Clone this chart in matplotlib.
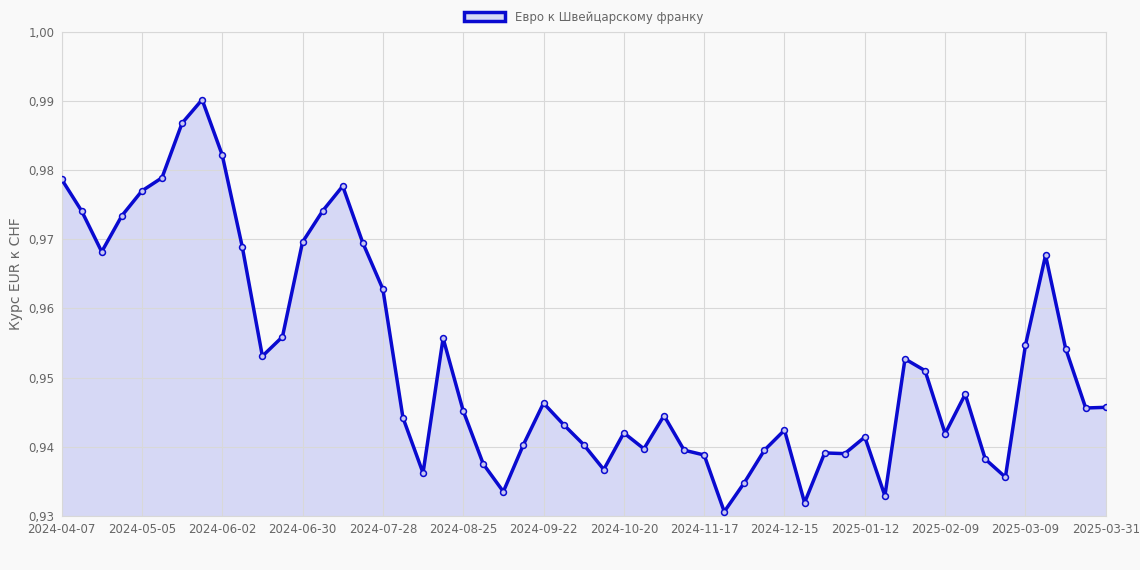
import matplotlib.pyplot as plt
import matplotlib.patches as mpatches
import pandas as pd

# weekly EUR/CHF rate
values = [0.9787, 0.9741, 0.9682, 0.9734, 0.9770, 0.9789, 0.9868, 0.9902, 0.9822, 0.9689,
          0.9531, 0.9559, 0.9696, 0.9741, 0.9777, 0.9695, 0.9628, 0.9442, 0.9362, 0.9557,
          0.9452, 0.9375, 0.9335, 0.9403, 0.9463, 0.9432, 0.9403, 0.9367, 0.9420, 0.9397,
          0.9445, 0.9395, 0.9388, 0.9306, 0.9348, 0.9395, 0.9424, 0.9319, 0.9391, 0.9390,
          0.9414, 0.9329, 0.9527, 0.9510, 0.9419, 0.9476, 0.9382, 0.9356, 0.9547, 0.9677,
          0.9542, 0.9456, 0.9457]
dates = [d.strftime("%Y-%m-%d") for d in pd.date_range("2024-04-07", periods=52, freq="7D")] + ["2025-03-31"]
tick_idx = list(range(0, 49, 4)) + [52]

bg = "#f9f9f9"
fig, ax = plt.subplots(figsize=(11.4, 5.7), dpi=100)
fig.patch.set_facecolor(bg)
ax.set_facecolor(bg)
fig.subplots_adjust(left=0.054, right=0.97, top=0.944, bottom=0.095)

x = list(range(len(values)))
ax.fill_between(x, values, 0.93, color="#d6d8f5", zorder=1)
ax.plot(x, values, color="#0a0ad0", lw=2.5, zorder=3)
ax.scatter(x, values, s=18, facecolor="#c8c8f0", edgecolor="#0a0ad0", lw=1.1, zorder=4)

ax.set_xlim(0, 52)
ax.set_ylim(0.93, 1.0)
ax.set_xticks(tick_idx)
ax.set_xticklabels([dates[i] for i in tick_idx])
ax.set_yticks([0.93 + 0.01 * i for i in range(8)])
ax.set_yticklabels([f"{0.93 + 0.01 * i:.2f}".replace(".", ",") for i in range(8)])
ax.tick_params(colors="#666666", labelsize=8.5, length=0, pad=5)
ax.grid(color="#d8d8d8", lw=0.8)
for s in ax.spines.values():
    s.set_color("#d8d8d8")
ax.set_ylabel("Курс EUR к CHF", color="#666666", fontsize=10)

h = mpatches.Patch(facecolor="#d6d8f5", edgecolor="#0a0ad0", lw=2.5)
ax.legend([h], ["Евро к Швейцарскому франку"], loc="lower center", bbox_to_anchor=(0.5, 1.0),
          frameon=False, fontsize=8.5, labelcolor="#666666", handlelength=3.5, borderaxespad=0.3)

plt.savefig("out.png", facecolor=bg)
